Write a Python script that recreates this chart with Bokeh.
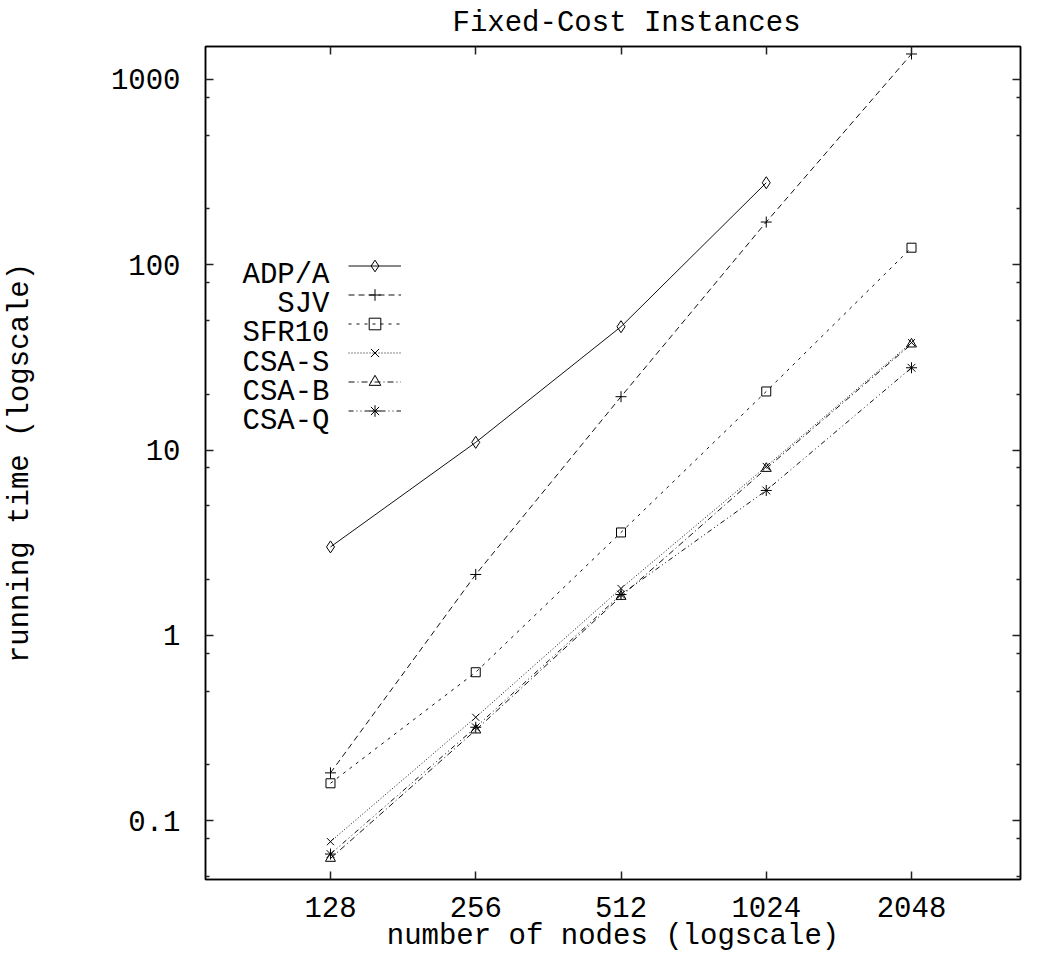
import math
from bokeh.plotting import figure
from bokeh.models import (Range1d, LogAxis, FixedTicker, CustomJSTickFormatter,
                          Legend, LegendItem, Label)
from bokeh.embed import file_html
from bokeh.resources import INLINE

# ---------------- data ----------------
nodes = [128, 256, 512, 1024, 2048]
nodes_adp = [128, 256, 512, 1024]
adp_a = [3.0, 11.0, 46.3, 277.0]
sjv = [0.181, 2.13, 19.4, 170.0, 1372.0]
sfr10 = [0.159, 0.632, 3.59, 20.7, 123.6]
csa_s = [0.077, 0.361, 1.79, 8.15, 38.0]
csa_b = [0.0625, 0.308, 1.62, 7.95, 37.3]
csa_q = [0.066, 0.319, 1.66, 6.05, 27.8]

x_ticks = [128, 256, 512, 1024, 2048]
y_ticks = [0.1, 1, 10, 100, 1000]
y_minor = [0.05, 0.08, 0.2, 0.5, 0.8, 2, 5, 8, 20, 50, 80, 200, 500, 800]

series_names = ["ADP/A", "SJV", "SFR10", "CSA-S", "CSA-B", "CSA-Q"]

title_text = "Fixed-Cost Instances"
x_title = "number of nodes (logscale)"
y_title = "running time (logscale)"

# ---------------- layout ----------------
X0, X1 = 70.5, 3445.0
Y0, Y1 = 0.0481, 1506.0
W, H = 1044, 955
FL, FR, FT, FB = 205, 1020, 46, 880   # frame edges in pixels
FONT = "Liberation Mono"
FS = "29px"


def px_to_x(px):
    a, b = math.log10(X0), math.log10(X1)
    return 10 ** (a + (px - FL) / (FR - FL) * (b - a))


def py_to_y(py):
    a, b = math.log10(Y0), math.log10(Y1)
    return 10 ** (a + (FB - py) / (FB - FT) * (b - a))


p = figure(width=W, height=H, x_axis_type="log", y_axis_type="log",
           x_range=Range1d(X0, X1), y_range=Range1d(Y0, Y1),
           output_backend="svg", toolbar_location=None,
           min_border_left=FL, min_border_right=W - FR,
           min_border_top=FT, min_border_bottom=H - FB)
p.grid.visible = False
p.outline_line_color = "black"
p.outline_line_width = 1.5
p.background_fill_color = "white"
p.border_fill_color = "white"

p.title.text = title_text
p.title.text_font = FONT
p.title.text_font_size = FS
p.title.text_font_style = "normal"
p.title.text_color = "black"
p.title.align = "left"
p.title.offset = 247
p.title.standoff = 10
p.title.vertical_align = "top"

fmt = CustomJSTickFormatter(code="return String(tick);")
blank = CustomJSTickFormatter(code="return '';")


def style_axis(ax, ticker, labels=True):
    ax.ticker = ticker
    ax.axis_line_color = "black"
    ax.axis_line_width = 1.5
    ax.major_tick_in = 8
    ax.major_tick_out = 0
    ax.minor_tick_in = 4
    ax.minor_tick_out = 0
    ax.major_tick_line_color = "#222222"
    ax.minor_tick_line_color = "#222222"
    ax.major_tick_line_width = 1.5
    ax.minor_tick_line_width = 1.5
    if labels:
        ax.formatter = fmt
        ax.major_label_text_font = FONT
        ax.major_label_text_font_size = FS
        ax.major_label_text_color = "black"
    else:
        ax.formatter = blank
        ax.major_label_text_font_size = "1px"
        ax.major_label_standoff = 0


xt = FixedTicker(ticks=x_ticks, minor_ticks=[])
yt = FixedTicker(ticks=y_ticks, minor_ticks=y_minor)

xa = p.xaxis[0]
style_axis(xa, xt)
xa.major_label_standoff = 17
xa.axis_label = x_title
xa.axis_label_text_font = FONT
xa.axis_label_text_font_size = FS
xa.axis_label_text_font_style = "normal"
xa.axis_label_text_color = "black"
xa.axis_label_standoff = 0

ya = p.yaxis[0]
style_axis(ya, yt)
ya.major_label_standoff = 25
ya.axis_label = y_title
ya.axis_label_text_font = FONT
ya.axis_label_text_font_size = FS
ya.axis_label_text_font_style = "normal"
ya.axis_label_text_color = "black"
ya.axis_label_standoff = 71

top = LogAxis()
style_axis(top, FixedTicker(ticks=x_ticks, minor_ticks=[]), labels=False)
p.add_layout(top, "above")
right = LogAxis()
style_axis(right, FixedTicker(ticks=y_ticks, minor_ticks=y_minor), labels=False)
p.add_layout(right, "right")

# ---------------- series ----------------
specs = [
    ("ADP/A", nodes_adp, adp_a, "solid", "diamond", 12),
    ("SJV", nodes, sjv, "6 4", "cross", 11),
    ("SFR10", nodes, sfr10, "3 5", "square", 9),
    ("CSA-S", nodes, csa_s, "1 2", "x", 10),
    ("CSA-B", nodes, csa_b, "6 3 1 3", "triangle", 10),
    ("CSA-Q", nodes, csa_q, "5 3 1 3 1 3", "asterisk", 11),
]

items = []
for name, xs, ys, dash, marker, size in specs:
    lr = p.line(xs, ys, line_color="#111111", line_width=1, line_dash=dash)
    sr = p.scatter(xs, ys, marker=marker, size=size, line_color="black",
                   fill_color=None, line_width=1)
    items.append(LegendItem(label=name, renderers=[lr, sr]))

legend = Legend(items=items, location=(348 - FL, FB - 426),
                glyph_width=53, glyph_height=29, spacing=0, padding=0, margin=0,
                label_text_alpha=0, label_text_font_size="8px", label_height=8,
                background_fill_alpha=0, border_line_alpha=0)
p.add_layout(legend, "center")

baselines = [275, 304, 333, 363, 392, 421]
for name, bl in zip(series_names, baselines):
    p.add_layout(Label(x=px_to_x(329), y=py_to_y(bl), text=name,
                       text_align="right", text_baseline="alphabetic",
                       text_font=FONT, text_font_size=FS, text_color="black"))

open("out.html", "w").write(file_html(p, INLINE))
